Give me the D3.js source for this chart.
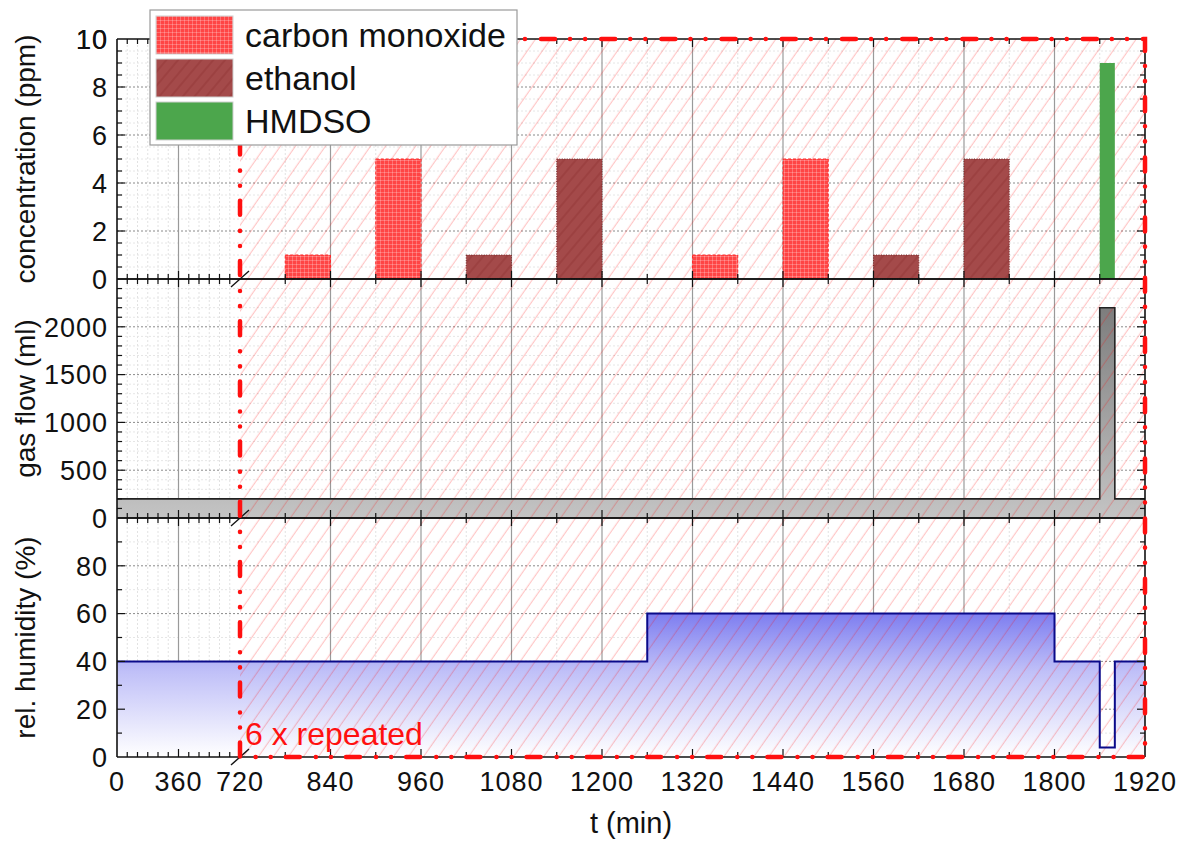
<!DOCTYPE html>
<html><head><meta charset="utf-8">
<script src="https://cdn.jsdelivr.net/npm/d3@7"></script>
<style>
html,body{margin:0;padding:0;background:#fff;}
svg text{font-family:"Liberation Sans",Arial,sans-serif;}
</style></head>
<body><svg id="c" width="1186" height="843"></svg>
<script>
// ---------- data ----------
const xTickValues = [0, 360, 720, 840, 960, 1080, 1200, 1320, 1440, 1560, 1680, 1800, 1920];
const coStart = [780, 900, 1320, 1440];
const coValue = [1, 5, 1, 5];
const ethanolStart = [1020, 1140, 1560, 1680];
const ethanolValue = [1, 5, 1, 5];
const barDuration = 60;
const hmdsoStart = [1860];
const hmdsoEnd = [1880];
const hmdsoValue = [9];
const gasTime = [0, 1860, 1860, 1880, 1880, 1920];
const gasValue = [200, 200, 2200, 2200, 200, 200];
const humTime = [0, 1260, 1260, 1800, 1800, 1860, 1860, 1880, 1880, 1920];
const humValue = [40, 40, 60, 60, 40, 40, 4, 4, 40, 40];
const concTicks = [0, 2, 4, 6, 8, 10];
const gasTicks = [0, 500, 1000, 1500, 2000];
const humTicks = [0, 20, 40, 60, 80];
const legendLabels = ["carbon monoxide", "ethanol", "HMDSO"];

// ---------- layout ----------
const svg = d3.select("#c");
const L = 117, R = 1145;
const x = d3.scaleLinear().domain([0, 720, 1920]).range([L, 240, R]);
const yC = d3.scaleLinear().domain([0, 10]).range([279, 39]);
const yG = d3.scaleLinear().domain([0, 2500]).range([518, 279]);
const yH = d3.scaleLinear().domain([0, 100]).range([757, 518]);
const panels = [
  {y: yC, ticks: concTicks, minor: d3.range(0, 10.01, 0.5), title: "concentration (ppm)"},
  {y: yG, ticks: gasTicks, minor: d3.range(0, 2501, 100), title: "gas flow (ml)"},
  {y: yH, ticks: humTicks, minor: d3.range(0, 101, 10), title: "rel. humidity (%)"}
];
const xMajor = [360, 840, 960, 1080, 1200, 1320, 1440, 1560, 1680, 1800];
const xMinor = d3.range(60, 720, 60).filter(v => v !== 360).concat(d3.range(780, 1920, 120));
const xAllTicks = d3.range(60, 720, 60).concat(d3.range(780, 1920, 60));

const defs = svg.append("defs");
const hp = defs.append("pattern").attr("id", "hatch").attr("patternUnits", "userSpaceOnUse")
  .attr("width", 12.3).attr("height", 12.3).attr("patternTransform", "rotate(35)");
hp.append("line").attr("x1", 6).attr("x2", 6).attr("y1", 0).attr("y2", 12.3)
  .attr("stroke", "rgba(255,0,0,0.26)").attr("stroke-width", 1);
const cp = defs.append("pattern").attr("id", "coPat").attr("patternUnits", "userSpaceOnUse")
  .attr("width", 4).attr("height", 4);
cp.append("rect").attr("width", 4).attr("height", 4).attr("fill", "#ff4545");
cp.append("path").attr("d", "M0,0.5H4M0.5,0V4").attr("stroke", "rgba(255,255,255,0.3)").attr("stroke-width", 0.8);
const ep = defs.append("pattern").attr("id", "etPat").attr("patternUnits", "userSpaceOnUse")
  .attr("width", 9).attr("height", 9).attr("patternTransform", "rotate(40)");
ep.append("rect").attr("width", 9).attr("height", 9).attr("fill", "#a44a4a");
ep.append("line").attr("x1", 4).attr("x2", 4).attr("y1", 0).attr("y2", 9)
  .attr("stroke", "rgba(130,40,40,0.5)").attr("stroke-width", 1);
const hg = defs.append("linearGradient").attr("id", "humGrad").attr("gradientUnits", "userSpaceOnUse")
  .attr("x1", 0).attr("x2", 0).attr("y1", yH(65)).attr("y2", yH(0));
hg.append("stop").attr("offset", 0).attr("stop-color", "#7070ee");
hg.append("stop").attr("offset", 0.45).attr("stop-color", "#c0c0f8");
hg.append("stop").attr("offset", 1).attr("stop-color", "#ffffff");
const gg = defs.append("linearGradient").attr("id", "gasGrad").attr("gradientUnits", "userSpaceOnUse")
  .attr("x1", 0).attr("x2", 0).attr("y1", yG(2200)).attr("y2", yG(0));
gg.append("stop").attr("offset", 0).attr("stop-color", "#7d7d7d");
gg.append("stop").attr("offset", 1).attr("stop-color", "#c4c4c4");

// ---------- grid ----------
const grid = svg.append("g");
panels.forEach(p => {
  const [y0, y1] = p.y.range();
  grid.selectAll(null).data(xMinor).join("line")
    .attr("x1", d => x(d)).attr("x2", d => x(d)).attr("y1", y0).attr("y2", y1)
    .attr("stroke", "#e2e2e2").attr("stroke-width", 1).attr("stroke-dasharray", "2,2");
  grid.selectAll(null).data(p.minor.filter(v => !p.ticks.includes(v) && v > p.y.domain()[0] && v < p.y.domain()[1])).join("line")
    .attr("x1", L).attr("x2", R).attr("y1", d => p.y(d)).attr("y2", d => p.y(d))
    .attr("stroke", "#e6e6e6").attr("stroke-width", 1).attr("stroke-dasharray", "2,2");
  grid.selectAll(null).data(p.ticks.filter(v => v > p.y.domain()[0] && v < p.y.domain()[1])).join("line")
    .attr("x1", L).attr("x2", R).attr("y1", d => p.y(d)).attr("y2", d => p.y(d))
    .attr("stroke", "#8a8a8a").attr("stroke-width", 1).attr("stroke-dasharray", "2,2");
  grid.selectAll(null).data(xMajor).join("line")
    .attr("x1", d => x(d)).attr("x2", d => x(d)).attr("y1", y0).attr("y2", y1)
    .attr("stroke", "#9a9a9a").attr("stroke-width", 1.2);
});

// ---------- fills ----------
const gasArea = d3.area().x((d, i) => x(gasTime[i])).y0(yG(0)).y1(d => yG(d));
svg.append("path").attr("d", gasArea(gasValue)).attr("fill", "url(#gasGrad)");
const humArea = d3.area().x((d, i) => x(humTime[i])).y0(yH(0)).y1(d => yH(d));
svg.append("path").attr("d", humArea(humValue)).attr("fill", "url(#humGrad)");

svg.append("rect").attr("x", x(720)).attr("y", yC(10)).attr("width", x(1920) - x(720))
  .attr("height", yH(0) - yC(10)).attr("fill", "url(#hatch)");

const gasLine = d3.line().x((d, i) => x(gasTime[i])).y(d => yG(d));
svg.append("path").attr("d", gasLine(gasValue)).attr("fill", "none").attr("stroke", "#222").attr("stroke-width", 1.6);
const humLine = d3.line().x((d, i) => x(humTime[i])).y(d => yH(d));
svg.append("path").attr("d", humLine(humValue)).attr("fill", "none").attr("stroke", "#0a0a8a").attr("stroke-width", 2);

// bars
svg.append("g").selectAll("rect").data(coStart).join("rect")
  .attr("x", d => x(d)).attr("width", d => x(d + barDuration) - x(d))
  .attr("y", (d, i) => yC(coValue[i])).attr("height", (d, i) => yC(0) - yC(coValue[i]))
  .attr("fill", "url(#coPat)").attr("stroke", "#ff2a2a").attr("stroke-width", 1).attr("stroke-dasharray", "3,2");
svg.append("g").selectAll("rect").data(ethanolStart).join("rect")
  .attr("x", d => x(d)).attr("width", d => x(d + barDuration) - x(d))
  .attr("y", (d, i) => yC(ethanolValue[i])).attr("height", (d, i) => yC(0) - yC(ethanolValue[i]))
  .attr("fill", "url(#etPat)").attr("stroke", "#7a2a2a").attr("stroke-width", 1).attr("stroke-dasharray", "1,1.5");
svg.append("g").selectAll("rect").data(hmdsoStart).join("rect")
  .attr("x", d => x(d)).attr("width", (d, i) => x(hmdsoEnd[i]) - x(d))
  .attr("y", (d, i) => yC(hmdsoValue[i])).attr("height", (d, i) => yC(0) - yC(hmdsoValue[i]))
  .attr("fill", "#4ca64c");

// ---------- axes ----------
const ax = svg.append("g").attr("stroke", "#111");
panels.forEach(p => {
  const [y0, y1] = p.y.range();
  ax.append("line").attr("x1", L).attr("x2", R).attr("y1", y0).attr("y2", y0).attr("stroke-width", 1.6);
  ax.append("line").attr("x1", L).attr("x2", R).attr("y1", y1).attr("y2", y1).attr("stroke-width", 1.6);
  ax.append("line").attr("x1", L).attr("x2", L).attr("y1", y0).attr("y2", y1).attr("stroke-width", 1.6);
  ax.append("line").attr("x1", R).attr("x2", R).attr("y1", y0).attr("y2", y1).attr("stroke-width", 1.6);
  const yt = p.minor.filter(v => v > p.y.domain()[0] && v < p.y.domain()[1]);
  yt.forEach(v => {
    const len = p.ticks.includes(v) ? 8 : 5;
    ax.append("line").attr("x1", L).attr("x2", L + len).attr("y1", p.y(v)).attr("y2", p.y(v)).attr("stroke-width", 1.2);
    ax.append("line").attr("x1", R).attr("x2", R - len).attr("y1", p.y(v)).attr("y2", p.y(v)).attr("stroke-width", 1.2);
  });
  xAllTicks.forEach(v => {
    const len = xTickValues.includes(v) ? 8 : 5;
    ax.append("line").attr("x1", x(v)).attr("x2", x(v)).attr("y1", y0).attr("y2", y0 - len).attr("stroke-width", 1.2);
    ax.append("line").attr("x1", x(v)).attr("x2", x(v)).attr("y1", y1).attr("y2", y1 + len).attr("stroke-width", 1.2);
  });
  ax.append("line").attr("x1", x(720) - 9).attr("x2", x(720) + 9).attr("y1", y0 + 8).attr("y2", y0 - 8).attr("stroke-width", 1.4);
  svg.append("g").selectAll("text").data(p.ticks).join("text")
    .attr("x", 108).attr("y", d => p.y(d)).attr("dy", "0.36em").attr("text-anchor", "end")
    .attr("font-size", 27).attr("letter-spacing", 1).attr("fill", "#111").text(d => d);
  svg.append("text").attr("transform", `translate(35,${(y0 + y1) / 2}) rotate(-90)`)
    .attr("text-anchor", "middle").attr("font-size", 28).attr("fill", "#111").text(p.title);
});
svg.append("text").attr("x", 108).attr("y", yC(10)).attr("dy", "0.36em").attr("text-anchor", "end")
  .attr("font-size", 27).attr("letter-spacing", 1).attr("fill", "#111").text(concTicks[concTicks.length - 1]);

svg.append("g").selectAll("text").data(xTickValues).join("text")
  .attr("x", d => x(d)).attr("y", 791).attr("text-anchor", "middle")
  .attr("font-size", 27).attr("letter-spacing", 1).attr("fill", "#111").text(d => d);
svg.append("text").attr("x", 631).attr("y", 833).attr("text-anchor", "middle")
  .attr("font-size", 29).attr("fill", "#111").text("t (min)");

// red dash-dot repeat frame
svg.append("rect").attr("x", x(720)).attr("y", yC(10)).attr("width", x(1920) - x(720))
  .attr("height", yH(0) - yC(10)).attr("fill", "none").attr("stroke", "#ff1010")
  .attr("stroke-width", 4.5).attr("stroke-linecap", "round").attr("stroke-dasharray", "14,15,0.1,15,0.1,16");
svg.append("text").attr("x", 245).attr("y", 745).attr("font-size", 32).attr("fill", "#ff1010").text("6 x repeated");

// legend
const lg = svg.append("g");
lg.append("rect").attr("x", 150).attr("y", 10).attr("width", 367).attr("height", 135)
  .attr("fill", "#fff").attr("stroke", "#9a9a9a").attr("stroke-width", 1.2);
const swFill = ["url(#coPat)", "url(#etPat)", "#4ca64c"];
legendLabels.forEach((t, i) => {
  lg.append("rect").attr("x", 156).attr("y", 16 + i * 43).attr("width", 77).attr("height", 38)
    .attr("fill", swFill[i]).attr("stroke", "#cfcfcf").attr("stroke-width", 1);
  lg.append("text").attr("x", 245).attr("y", 35 + i * 43).attr("dy", "0.36em")
    .attr("font-size", 34).attr("fill", "#111").text(t);
});
</script></body></html>
